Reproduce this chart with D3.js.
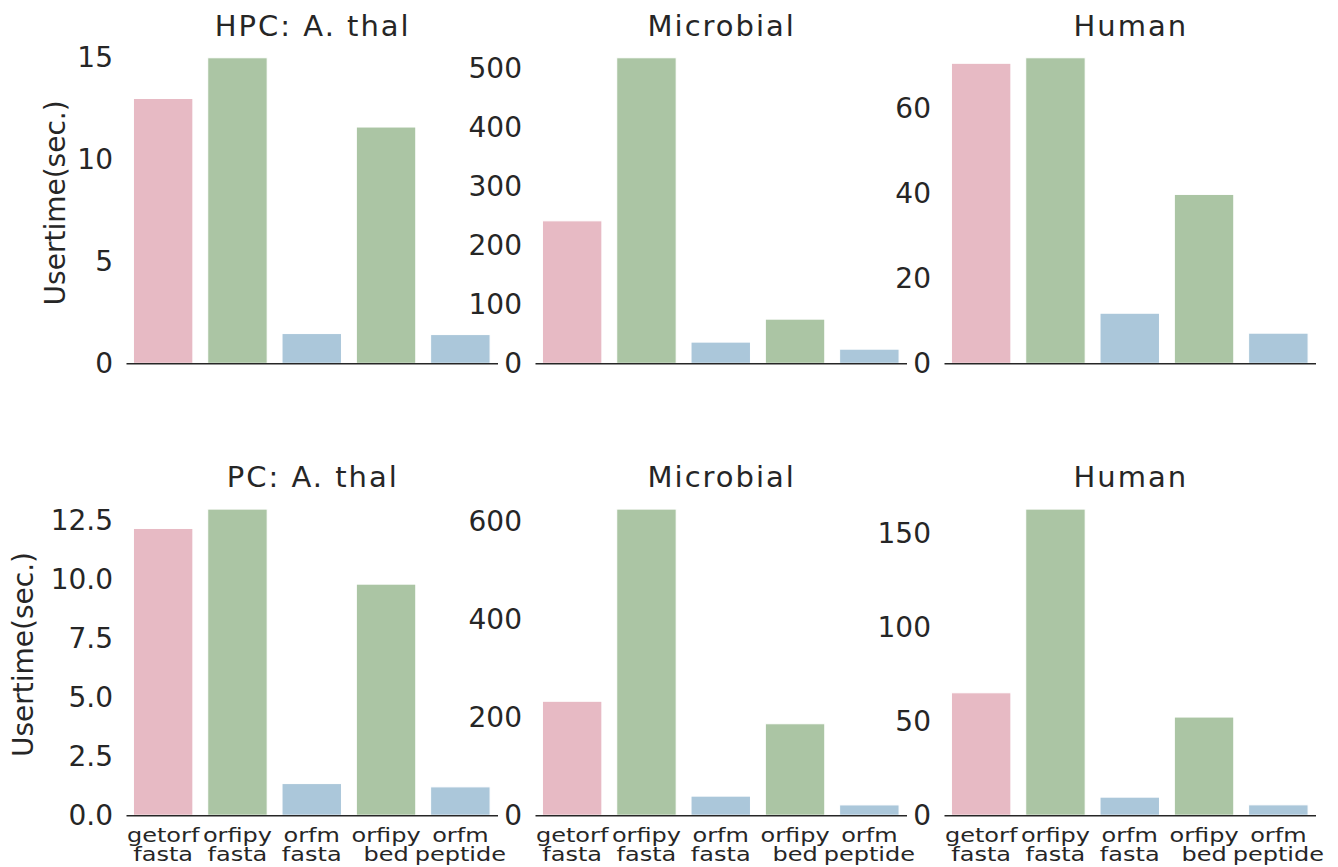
<!DOCTYPE html>
<html>
<head>
<meta charset="utf-8">
<script src="https://cdn.jsdelivr.net/npm/d3@7"></script>
<style>
  body { margin: 0; background: #fff; }
  svg text { font-family: "DejaVu Sans", sans-serif; fill: #262626; }
</style>
</head>
<body>
<svg id="viz" width="1338" height="867"></svg>
<script>
// categories (tool + output format)
const tools = ["getorf", "orfipy", "orfm", "orfipy", "orfm"]
const formats = ["fasta", "fasta", "fasta", "bed", "peptide"]
const barColors = ["#e7bac4", "#abc5a4", "#abc7da", "#abc5a4", "#abc7da"]

// usertime in seconds
const hpcAthal = [13.0, 15.0, 1.46, 11.6, 1.41]
const hpcMicrobial = [242, 519, 36, 75, 24]
const hpcHuman = [70.7, 72.0, 11.8, 39.8, 7.1]
const pcAthal = [12.15, 12.97, 1.34, 9.79, 1.2]
const pcMicrobial = [233, 626, 39, 187, 21]
const pcHuman = [65.1, 162.8, 9.6, 52.2, 5.5]

const titles = ["HPC: A. thal", "Microbial", "Human", "PC: A. thal", "Microbial", "Human"]
const ticksHpcAthal = [0, 5, 10, 15]
const ticksHpcMicrobial = [0, 100, 200, 300, 400, 500]
const ticksHpcHuman = [0, 20, 40, 60]
const ticksPcAthal = [0, 2.5, 5, 7.5, 10, 12.5]
const ticksPcMicrobial = [0, 200, 400, 600]
const ticksPcHuman = [0, 50, 100, 150]

var cols = [[126, 497.5], [535, 906.5], [944, 1315.5]]
var rows = [[42.5, 363.3], [493.8, 815.2]]

var panels = [
    { vals: hpcAthal, ticks: ticksHpcAthal, fmt: d3.format("d"), r: 0, c: 0, ylabX: 65 },
    { vals: hpcMicrobial, ticks: ticksHpcMicrobial, fmt: d3.format("d"), r: 0, c: 1 },
    { vals: hpcHuman, ticks: ticksHpcHuman, fmt: d3.format("d"), r: 0, c: 2 },
    { vals: pcAthal, ticks: ticksPcAthal, fmt: d3.format(".1f"), r: 1, c: 0, ylabX: 33 },
    { vals: pcMicrobial, ticks: ticksPcMicrobial, fmt: d3.format("d"), r: 1, c: 1 },
    { vals: pcHuman, ticks: ticksPcHuman, fmt: d3.format("d"), r: 1, c: 2 }
]

var svg = d3.select("#viz")
var idx = d3.range(tools.length)

panels.forEach((p, i) => {
    var xr = cols[p.c], yr = rows[p.r]
    var x = d3.scaleBand().domain(idx).range(xr).paddingInner(0.2).paddingOuter(0.1)
    var y = d3.scaleLinear().domain([0, d3.max(p.vals) * 1.05]).range([yr[1], yr[0]])

    var g = svg.append("g").attr("class", "panel")

    g.selectAll("rect").data(p.vals).join("rect")
        .attr("x", (d, j) => x(j))
        .attr("y", d => y(d))
        .attr("width", x.bandwidth())
        .attr("height", d => y(0) - y(d))
        .attr("fill", (d, j) => barColors[j])
        .attr("stroke", "#fff")
        .attr("stroke-width", 1)

    // y axis, no spine, no tick marks
    var ya = g.append("g")
        .attr("transform", `translate(${xr[0]},0)`)
        .call(d3.axisLeft(y).tickValues(p.ticks).tickFormat(p.fmt).tickSize(0).tickPadding(13))
    ya.select(".domain").remove()
    ya.selectAll("text").attr("font-size", 28).attr("font-family", "DejaVu Sans").attr("fill", "#262626")

    // x axis: only the bottom spine line, labels on bottom row
    var xa = g.append("g")
        .attr("transform", `translate(0,${yr[1]})`)
        .call(d3.axisBottom(x).tickSize(0).tickFormat(""))
    xa.select(".domain").attr("stroke", "#262626").attr("stroke-width", 1.5)

    if (p.r == 1) {
        var t = xa.selectAll(".tick text")
            .attr("y", 0).attr("dy", null)
            .attr("transform", "scale(1,0.78)")
            .attr("font-size", 24)
            .attr("font-family", "DejaVu Sans")
            .attr("fill", "#262626")
        t.append("tspan").attr("x", 0).attr("y", 26.5 / 0.78).text(j => tools[j])
        t.append("tspan").attr("x", 0).attr("y", 45.7 / 0.78).text(j => formats[j])
    }

    g.append("text")
        .attr("x", (xr[0] + xr[1]) / 2 + 1)
        .attr("y", yr[0] - 7)
        .attr("text-anchor", "middle")
        .attr("font-size", 29)
        .attr("letter-spacing", 2)
        .text(titles[i])

    if (p.ylabX) {
        g.append("text")
            .attr("transform", `translate(${p.ylabX},${(yr[0] + yr[1]) / 2}) rotate(-90)`)
            .attr("text-anchor", "middle")
            .attr("font-size", 28)
            .text("Usertime(sec.)")
    }
})
</script>
</body>
</html>
